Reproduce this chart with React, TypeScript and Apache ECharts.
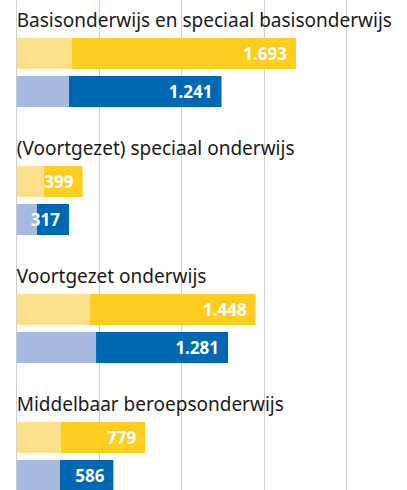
import React, { useEffect, useRef } from "react";
import * as echarts from "echarts";

const categories = [
  "Basisonderwijs en speciaal basisonderwijs",
  "(Voortgezet) speciaal onderwijs",
  "Voortgezet onderwijs",
  "Middelbaar beroepsonderwijs",
];
const yellowTotals = [1693, 399, 1448, 779];
const yellowLight = [335, 165, 444, 268];
const blueTotals = [1241, 317, 1281, 586];
const blueLight = [317, 123, 481, 262];

const xTicks = [0, 500, 1000, 1500, 2000];

const fmt = (v: number) => String(v).replace(/\B(?=(\d{3})+(?!\d))/g, ".");

export default function App() {
  const ref = useRef<HTMLDivElement>(null);
  useEffect(() => {
    if (!ref.current) return;
    const chart = echarts.init(ref.current, undefined, { renderer: "svg" });
    const font = "'Noto Sans', sans-serif";
    const labelCfg = (totals: number[]) => ({
      show: true,
      position: "insideRight" as const,
      distance: 9,
      color: "#ffffff",
      fontFamily: font,
      fontWeight: "bold" as const,
      fontSize: 17,
      formatter: (p: any) => fmt(totals[p.dataIndex]),
    });
    chart.setOption({
      animation: false,
      grid: { left: 16.7, width: 330, top: 8.5, height: 512 },
      xAxis: {
        type: "value",
        position: "top",
        min: xTicks[0],
        max: xTicks[xTicks.length - 1],
        interval: xTicks[1] - xTicks[0],
        axisLabel: { show: false },
        axisLine: { show: false },
        axisTick: { show: true, length: 9, lineStyle: { color: "#cfcfcf", width: 1 } },
        splitLine: { show: true, lineStyle: { color: "#cfcfcf", width: 1 } },
      },
      yAxis: {
        type: "category",
        data: categories,
        inverse: true,
        axisLine: { show: false },
        axisTick: { show: false },
        axisLabel: {
          inside: true,
          interval: 0,
          margin: 0,
          align: "left",
          verticalAlign: "middle",
          formatter: (v: string) => `{t|${v}}\n{s| }`,
          rich: {
            t: {
              color: "#1a1a1a",
              fontFamily: font,
              fontSize: 19,
              lineHeight: 20,
            },
            s: { fontSize: 10, height: 105, lineHeight: 105 },
          },
        },
      },
      series: [
        {
          type: "bar",
          stack: "y",
          data: yellowLight,
          barWidth: 31,
          barGap: "22.6%",
          itemStyle: { color: "#fde08b" },
        },
        {
          type: "bar",
          stack: "y",
          data: yellowTotals.map((t, i) => t - yellowLight[i]),
          barWidth: 31,
          barGap: "22.6%",
          itemStyle: { color: "#ffcd20" },
          label: labelCfg(yellowTotals),
        },
        {
          type: "bar",
          stack: "b",
          data: blueLight,
          barWidth: 31,
          barGap: "22.6%",
          itemStyle: { color: "#a8badf" },
        },
        {
          type: "bar",
          stack: "b",
          data: blueTotals.map((t, i) => t - blueLight[i]),
          barWidth: 31,
          barGap: "22.6%",
          itemStyle: { color: "#0067b2" },
          label: labelCfg(blueTotals),
        },
      ],
    });
    return () => chart.dispose();
  }, []);
  return (
    <div
      style={{ position: "absolute", left: 0, top: 0, width: 407, height: 490, overflow: "hidden", background: "#ffffff" }}
    >
      <div ref={ref} style={{ width: 407, height: 530 }} />
    </div>
  );
}
